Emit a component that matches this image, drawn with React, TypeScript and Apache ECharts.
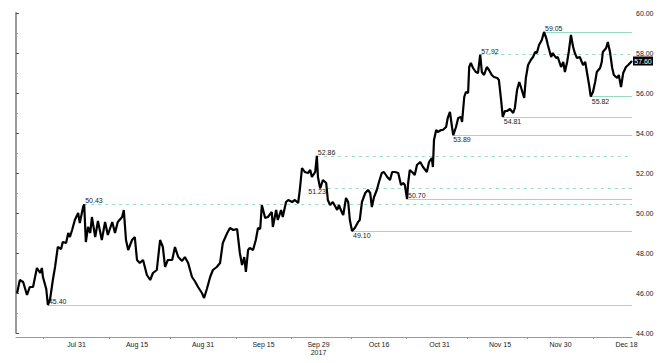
import React, { useEffect, useRef } from "react";
import * as echarts from "echarts";

// ---- data ----
const sessionCount = 113; // trading sessions Jul 14 .. Dec 19, 2017
const xTickLabels = ["Jul 31", "Aug 15", "Aug 31", "Sep 15", "Sep 29\n2017", "Oct 16", "Oct 31", "Nov 15", "Nov 30", "Dec 18"];
const xTickLabelDays = [11, 22, 34, 45, 55, 66, 77, 88, 99, 111];
const xTickMarkDays = [5, 17, 28, 40, 50, 61, 71, 82, 93, 105];

const priceDays = [
  0.2, 0.7, 1.3, 2.0, 2.5, 3.1, 3.8, 4.4, 4.7, 4.9, 5.5, 5.8, 6.2, 6.7, 7.1, 7.6, 8.2, 8.5, 9.1, 9.5,
  9.8, 10.2, 10.7, 11.3, 11.6, 12.2, 12.4, 12.7, 13.1, 13.5, 13.8, 14.4, 14.9, 15.6, 16.2, 16.7, 17.5, 18.0, 18.5, 19.3,
  19.6, 20.0, 20.4, 21.1, 21.6, 22.0, 22.5, 23.1, 23.8, 24.4, 24.9, 25.6, 26.2, 26.7, 27.1, 27.6, 28.4, 28.9, 29.5, 30.2,
  30.7, 31.3, 32.0, 32.5, 33.1, 33.8, 34.2, 34.7, 35.3, 35.8, 36.5, 37.1, 37.6, 38.4, 38.9, 39.5, 40.2, 40.7, 41.1, 41.5,
  41.8, 42.2, 42.5, 43.1, 43.6, 44.0, 44.4, 44.7, 45.3, 45.8, 46.5, 46.7, 47.3, 47.6, 48.2, 48.5, 49.1, 49.5, 50.2, 50.7,
  51.3, 51.6, 52.0, 52.5, 53.1, 53.5, 53.8, 54.4, 54.7, 54.9, 55.3, 55.8, 56.4, 56.7, 57.1, 57.6, 58.4, 58.7, 59.3, 59.5,
  60.0, 60.4, 60.7, 61.1, 61.6, 62.2, 62.5, 62.9, 63.5, 64.0, 64.4, 64.7, 65.1, 65.6, 66.0, 66.5, 66.9, 67.5, 68.0, 68.4,
  68.9, 69.5, 70.0, 70.4, 70.7, 71.1, 71.3, 71.6, 72.2, 72.5, 72.9, 73.5, 74.0, 74.7, 75.1, 75.6, 75.8, 76.0, 76.4, 76.7,
  77.3, 77.6, 78.2, 78.5, 78.9, 79.3, 79.5, 80.0, 80.4, 80.9, 81.1, 81.5, 81.8, 82.2, 82.4, 82.7, 83.1, 83.6, 84.0, 84.4,
  84.7, 85.1, 85.6, 86.0, 86.5, 86.9, 87.5, 87.8, 88.2, 88.5, 88.9, 89.3, 89.8, 90.4, 90.7, 91.1, 91.5, 91.8, 92.4, 92.7,
  93.1, 93.6, 94.0, 94.4, 94.7, 95.1, 95.6, 96.0, 96.4, 96.7, 97.3, 97.6, 98.2, 98.5, 99.1, 99.5, 99.8, 100.2, 100.5, 100.9,
  101.3, 101.6, 102.0, 102.5, 103.1, 103.5, 103.8, 104.2, 104.5, 104.9, 105.3, 105.6, 106.2, 106.5, 106.7, 107.3, 107.6, 108.0, 108.4, 108.7,
  109.3, 109.6, 110.0, 110.4, 110.9, 111.3, 112.0,
];
const priceValues = [
  46.0, 46.65, 46.55, 45.9, 46.3, 46.3, 47.25, 47.0, 47.25, 46.8, 46.2, 45.4, 45.7, 46.65, 47.3, 48.3, 48.2, 48.55, 48.5, 49.0,
  48.8, 49.15, 49.65, 50.0, 49.5, 50.3, 50.43, 48.55, 49.3, 49.0, 49.8, 48.8, 49.6, 48.65, 49.55, 48.9, 49.55, 49.0, 49.55, 49.8,
  50.15, 48.65, 48.15, 48.65, 48.8, 47.65, 47.5, 47.65, 46.9, 46.65, 47.0, 47.15, 48.65, 48.3, 47.3, 47.65, 47.65, 48.3, 47.8, 47.6,
  47.8, 47.5, 46.8, 46.6, 46.3, 46.0, 45.75, 46.2, 46.8, 47.15, 47.3, 47.5, 48.5, 49.0, 49.25, 49.15, 49.2, 48.0, 47.4, 47.8,
  47.05, 48.15, 48.25, 48.15, 48.65, 49.25, 49.2, 50.4, 49.75, 49.8, 50.05, 49.3, 50.15, 49.65, 50.15, 49.8, 50.55, 50.65, 50.55, 50.65,
  50.5, 51.15, 52.25, 52.05, 52.0, 52.15, 51.8, 52.05, 52.86, 51.8, 51.23, 51.65, 51.5, 50.65, 50.4, 50.55, 50.15, 50.4, 50.0, 49.9,
  50.75, 50.55, 49.65, 49.1, 49.25, 49.55, 49.65, 50.55, 51.0, 51.15, 51.0, 50.3, 50.8, 51.15, 51.55, 52.0, 52.05, 51.8, 51.65, 52.05,
  52.05, 52.0, 51.4, 51.5, 51.4, 50.7, 51.5, 52.15, 52.0, 51.9, 52.4, 52.55, 52.3, 52.05, 52.55, 52.75, 52.3, 53.65, 54.15, 54.05,
  54.15, 54.15, 54.3, 54.75, 55.05, 54.25, 53.89, 54.3, 54.75, 54.8, 54.55, 55.8, 56.05, 56.0, 57.3, 57.5, 57.25, 57.05, 57.0, 57.92,
  57.05, 56.9, 57.3, 57.15, 56.9, 56.8, 56.75, 56.65, 55.65, 54.81, 55.1, 55.1, 55.2, 55.0, 55.25, 56.15, 56.55, 56.3, 55.75, 56.75,
  57.4, 57.65, 57.8, 58.05, 58.0, 58.4, 58.65, 59.05, 58.75, 58.4, 57.8, 58.0, 57.75, 57.8, 57.3, 57.55, 57.05, 57.55, 58.05, 58.9,
  58.3, 58.0, 57.75, 57.8, 57.4, 57.55, 57.05, 56.4, 55.82, 56.05, 56.55, 57.05, 57.25, 57.55, 58.05, 58.25, 58.55, 58.05, 57.25, 56.9,
  56.75, 56.9, 56.3, 57.0, 57.3, 57.4, 57.6,
];

const levelValues = [45.4, 50.43, 52.86, 51.23, 49.1, 50.7, 53.89, 57.92, 54.81, 59.05, 55.82];
const levelStartDays = [5.8, 12.4, 54.7, 56.7, 61.1, 71.1, 79.3, 84.4, 88.5, 96.0, 104.5];
const levelDashed = [false, true, true, true, false, false, false, true, false, false, false];
const levelLabelSide = ["above", "above", "above", "left", "below", "above", "below", "above", "below", "above", "below"];

const yMin = 44;
const yMax = 60;
const yStep = 2;

export default function App() {
  const ref = useRef<HTMLDivElement>(null);

  useEffect(() => {
    if (!ref.current) return;
    const chart = echarts.init(ref.current, undefined, { renderer: "svg" });
    const font = "'Liberation Sans', Arial, sans-serif";
    const levelColor = "#98dcc2";
    const textColor = "#1a1a1a";

    const categories = Array.from({ length: sessionCount }, (_, i) => {
      const k = xTickLabelDays.indexOf(i);
      return k >= 0 ? xTickLabels[k] : "";
    });

    const lastIdx = priceValues.length - 1;

    const markLineData = levelValues.map((v, i) => {
      const side = levelLabelSide[i];
      let label: any;
      if (side === "above") {
        label = { position: "insideStartTop", distance: [1, 0] };
      } else if (side === "below") {
        label = { position: "insideStartBottom", distance: [1, 1] };
      } else {
        label = { position: "start", distance: 2, verticalAlign: "top" };
      }
      const lineStyle = {
        color: levelColor,
        opacity: 1,
        width: 1.2,
        type: levelDashed[i] ? [3, 4] : "solid",
      };
      const lab = {
        show: true,
        formatter: v.toFixed(2),
        color: textColor,
        fontSize: 7,
        fontFamily: font,
        ...label,
      };
      return [
        { coord: [levelStartDays[i], v], lineStyle, label: lab },
        { coord: [sessionCount - 1, v], lineStyle, label: lab },
      ];
    });

    chart.setOption({
      animation: false,
      backgroundColor: "#ffffff",
      grid: { left: 16, right: 36, top: 13, bottom: 30, containLabel: false },
      xAxis: [
        {
          type: "value",
          min: 0,
          max: sessionCount - 1,
          show: false,
        },
        {
          type: "category",
          data: categories,
          boundaryGap: false,
          position: "bottom",
          offset: 4,
          axisLine: { show: true, lineStyle: { color: "#9a9a9a", width: 1 } },
          axisTick: {
            show: true,
            length: 2,
            interval: (i: number) => xTickMarkDays.includes(i),
            lineStyle: { color: "#9a9a9a" },
          },
          axisLabel: {
            show: true,
            interval: (i: number) => xTickLabelDays.includes(i),
            color: textColor,
            fontSize: 7,
            fontFamily: font,
            lineHeight: 8,
            margin: 3,
          },
          splitLine: { show: false },
        },
      ],
      yAxis: {
        type: "value",
        position: "right",
        min: yMin,
        max: yMax,
        interval: yStep,
        axisLine: { show: true, lineStyle: { color: "#9a9a9a", width: 2 } },
        axisTick: { show: true, length: 3, lineStyle: { color: "#555" } },
        minorTick: { show: true, splitNumber: 2, length: 2, lineStyle: { color: "#9a9a9a" } },
        axisLabel: {
          color: textColor,
          fontSize: 7,
          fontFamily: font,
          margin: 4,
          formatter: (v: number) => v.toFixed(2),
        },
        splitLine: { show: false },
      },
      series: [
        {
          type: "line",
          xAxisIndex: 0,
          data: priceDays.map((d, i) => [d, priceValues[i]]),
          showSymbol: false,
          symbol: "none",
          lineStyle: { color: "#000000", width: 2.2 },
          itemStyle: { color: "#000000" },
          silent: true,
          z: 5,
          markLine: {
            silent: true,
            symbol: ["none", "none"],
            z: 2,
            lineStyle: { color: levelColor, width: 1.2, opacity: 1 },
            label: { color: textColor, fontSize: 7, fontFamily: font },
            emphasis: { disabled: true },
            data: markLineData,
          },
          markPoint: {
            silent: true,
            data: [
              {
                coord: [priceDays[lastIdx], priceValues[lastIdx]],
                symbol: "rect",
                symbolSize: [20, 9],
                symbolOffset: [11, 0],
                itemStyle: { color: "#000000" },
                label: {
                  show: true,
                  position: "inside",
                  formatter: priceValues[lastIdx].toFixed(2),
                  color: "#ffffff",
                  fontSize: 7,
                  fontFamily: font,
                },
              },
            ],
          },
        },
      ],
    });

    return () => chart.dispose();
  }, []);

  return (
    <div
      ref={ref}
      style={{ position: "fixed", left: 0, top: 0, width: 668, height: 363, background: "#fff" }}
    />
  );
}
